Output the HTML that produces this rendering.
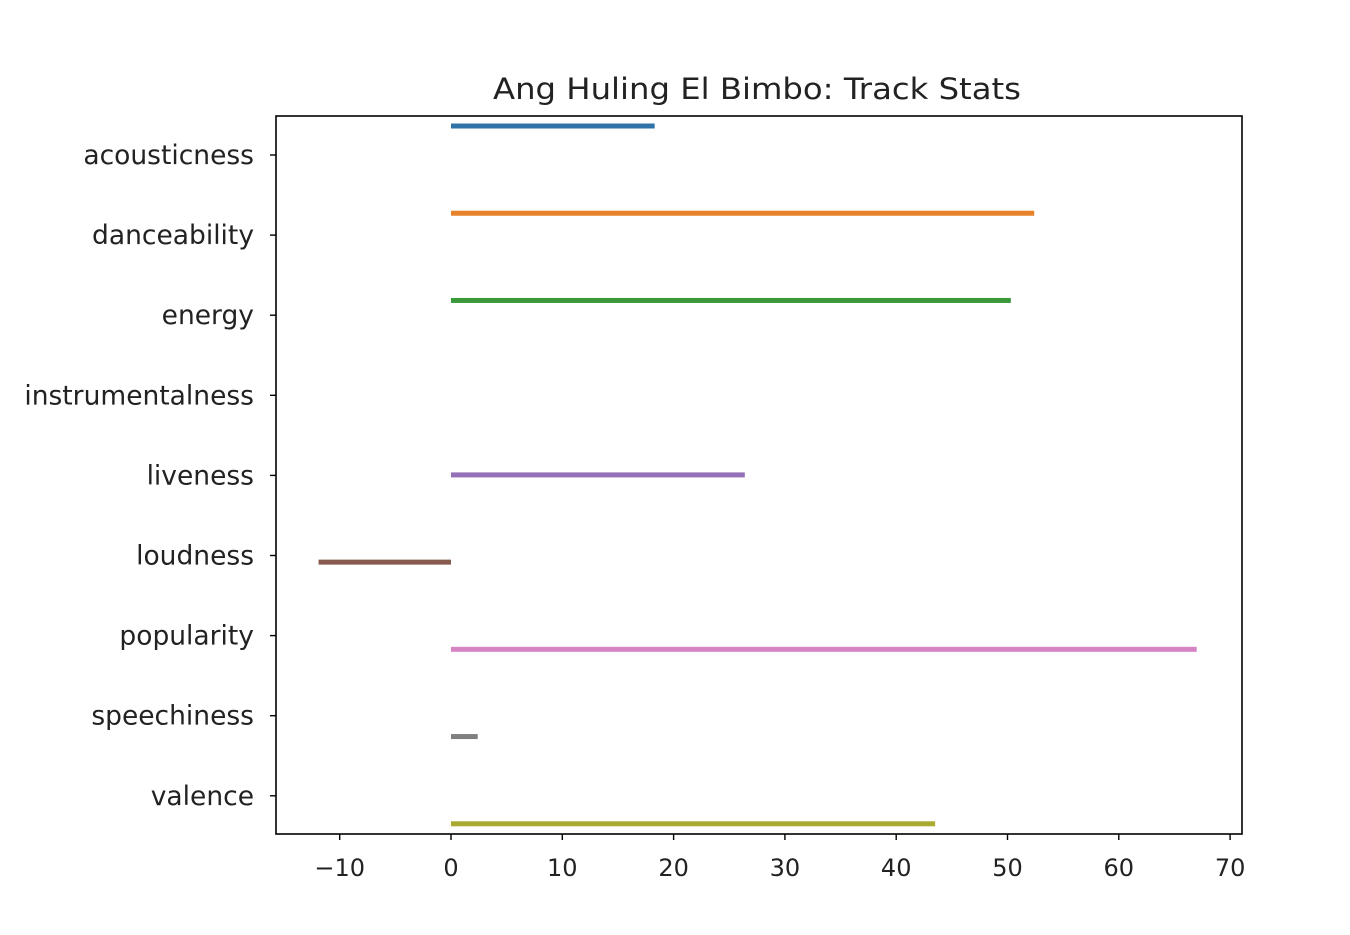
<!DOCTYPE html>
<html><head><meta charset="utf-8"><style>
html,body{margin:0;padding:0;background:#fff;}
svg text{font-family:"DejaVu Sans","Liberation Sans",sans-serif;fill:#222;}
</style></head><body>
<svg id="chart" width="1350" height="930" xmlns="http://www.w3.org/2000/svg">
<text x="757" y="99" font-size="29" text-anchor="middle" textLength="528" lengthAdjust="spacingAndGlyphs">Ang Huling El Bimbo: Track Stats</text>
<g id="bars"></g>
<g id="xticks"></g>
<g id="yticks"></g>
<rect x="276" y="116" width="966" height="718" fill="none" stroke="#000" stroke-width="1.6"/>
</svg>
<script>
const categories=["acousticness","danceability","energy","instrumentalness","liveness","loudness","popularity","speechiness","valence"];
const values=[18.3,52.4,50.3,0,26.4,-11.9,67,2.4,43.5];
const colors=["#2f72a8","#e8822a","#3a9a3a","#c83a3a","#9370b8","#875a50","#d784c4","#7f7f7f","#aaaa30"];
const xTicks=[-10,0,10,20,30,40,50,60,70];
const NS="http://www.w3.org/2000/svg";
const x=v=>451+v*11.13;
const yc=i=>155+i*80.1;
const n=categories.length;
const bars=document.getElementById('bars'),xt=document.getElementById('xticks'),yt=document.getElementById('yticks');
function mk(t,a){const e=document.createElementNS(NS,t);for(const k in a)e.setAttribute(k,a[k]);return e;}
categories.forEach((c,i)=>{
  const off=(-0.4+0.8/n*(i+0.5))*80.1;
  const v=values[i];
  const r=mk('rect',{x:Math.min(x(0),x(v)),y:yc(i)+off-3,width:Math.abs(x(v)-x(0)),height:5,fill:colors[i]});
  
  
  bars.appendChild(r);
  const tk=mk('line',{x1:270,x2:276,y1:yc(i),y2:yc(i),stroke:'#000','stroke-width':1.4});
  
  
  yt.appendChild(tk);
  const tl=mk('text',{x:254,y:yc(i)+9,'font-size':'26.5','text-anchor':'end'});
  tl.textContent=c;
  
  
  yt.appendChild(tl);
});
xTicks.forEach(t=>{
  const tk=mk('line',{x1:x(t),x2:x(t),y1:834,y2:840,stroke:'#000','stroke-width':1.4});
  
  
  xt.appendChild(tk);
  const tl=mk('text',{x:x(t),y:876,'font-size':'24','text-anchor':'middle'});
  tl.textContent=t<0?'\u2212'+(-t):String(t);
  
  
  xt.appendChild(tl);
});
</script>
</body></html>
